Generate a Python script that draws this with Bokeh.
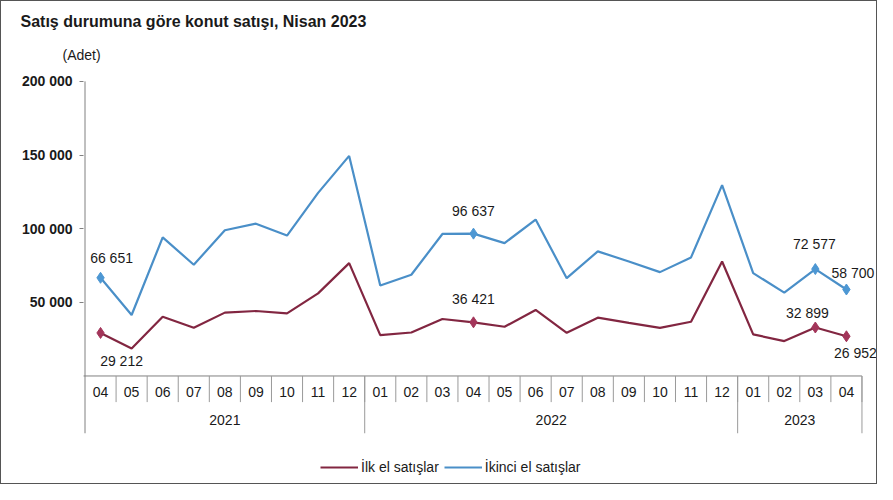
from bokeh.plotting import figure
from bokeh.models import Range1d, FixedTicker, Title, Legend, LegendItem, ColumnDataSource
from bokeh.core.properties import value
from bokeh.embed import file_html
from bokeh.resources import INLINE

# ---------------- data ----------------
months = ["04", "05", "06", "07", "08", "09", "10", "11", "12",
          "01", "02", "03", "04", "05", "06", "07", "08", "09", "10", "11", "12",
          "01", "02", "03", "04"]
years = ["2021", "2022", "2023"]
year_counts = [9, 12, 4]

ilk_el = [29212, 18600, 40200, 32700, 43000, 44100, 42500, 56100, 76600,
          27700, 29500, 38700, 36421, 33400, 44800, 29300, 39600, 36100, 32700, 36800, 77700,
          28200, 23700, 32899, 26952]
ikinci_el = [66651, 41400, 94100, 75500, 98900, 103400, 95300, 124300, 149400,
             61400, 68700, 96400, 96637, 90200, 106200, 66400, 84600, 77700, 70500, 80500, 129600,
             69800, 56600, 72577, 58700]

y_ticks = [50000, 100000, 150000, 200000]
y_tick_labels = ["50 000", "100 000", "150 000", "200 000"]

labelled_idx = [0, 12, 23, 24]

title_text = "Satış durumuna göre konut satışı, Nisan 2023"
unit_text = "(Adet)"
legend_names = ["İlk el satışlar", "İkinci el satışlar"]

# ---------------- layout constants (figure pixel coords) ----------------
W, H = 877, 484
PX = 50000 / 73.3          # data units per pixel
ZERO = 373                 # y pixel of value 0
FRAME_TOP, FRAME_BOTTOM = 66, 482
FRAME_LEFT, FRAME_RIGHT = 82, 875
SLOT = 31.0                # px per month
X0 = 83.5                  # x pixel of the first category's left edge

RED = "#822641"
RED_M = "#a3355a"
BLUE = "#4a8fc8"
BLUE_M = "#4d97d3"
FONT = "Liberation Sans"
TXT = "#1a1a1a"

def ypx(py):
    return (ZERO - py) * PX

p = figure(width=W, height=H, output_backend="svg", toolbar_location=None,
           x_range=Range1d((FRAME_LEFT - X0) / SLOT, (FRAME_RIGHT - X0) / SLOT),
           y_range=Range1d(ypx(FRAME_BOTTOM), ypx(FRAME_TOP)),
           x_axis_location=None, title=None,
           min_border_left=FRAME_LEFT, min_border_right=W - 2 - FRAME_RIGHT,
           min_border_top=FRAME_TOP, min_border_bottom=H - 2 - FRAME_BOTTOM)
p.outline_line_color = None
p.grid.visible = False
p.background_fill_color = "white"
p.border_fill_color = "white"
p.styles = {"border": "1px solid #555555", "box-sizing": "border-box"}

# y axis
ya = p.yaxis[0]
ya.ticker = FixedTicker(ticks=y_ticks)
ya.major_label_overrides = {t: l for t, l in zip(y_ticks, y_tick_labels)}
ya.axis_line_color = None
ya.minor_tick_line_color = None
ya.major_tick_out = 4
ya.major_tick_in = 0
ya.major_tick_line_color = "#808080"
ya.major_label_standoff = 7
ya.major_label_text_font = FONT
ya.major_label_text_font_size = "14px"
ya.major_label_text_font_style = "bold"
ya.major_label_text_color = TXT

# titles (first added sits nearest the plot area)
p.add_layout(Title(text=unit_text, align="left", offset=61 - FRAME_LEFT,
                   text_font=FONT, text_font_size="14px", text_font_style="normal",
                   text_color=TXT, standoff=10), "above")
p.add_layout(Title(text=title_text, align="left", offset=19 - FRAME_LEFT,
                   text_font=FONT, text_font_size="16px", text_font_style="bold",
                   text_color=TXT, standoff=19), "above")

n = len(months)
xs = [i + 0.5 for i in range(n)]

# axis lines and separators
y_month_bottom = ypx(399)
y_year_bottom = ypx(430)
p.segment(x0=[0], y0=[y_ticks[-1]], x1=[0], y1=[y_year_bottom], line_color="#808080", line_width=1)
p.segment(x0=[-0.06], y0=[0], x1=[n], y1=[0], line_color="#808080", line_width=1)
p.segment(x0=list(range(1, n + 1)), y0=[0] * n, x1=list(range(1, n + 1)), y1=[y_month_bottom] * n,
          line_color="#9a9a9a", line_width=1)
bounds = [0]
for c in year_counts:
    bounds.append(bounds[-1] + c)
p.segment(x0=bounds[1:], y0=[0] * len(year_counts), x1=bounds[1:], y1=[y_year_bottom] * len(year_counts),
          line_color="#9a9a9a", line_width=1)

# category labels
p.text(x=xs, y=[ypx(389)] * n, text=months, text_align="center", text_baseline="middle",
       text_font=value(FONT), text_font_size="14px", text_color=TXT)
year_x = [(bounds[i] + bounds[i + 1]) / 2 for i in range(len(years))]
p.text(x=year_x, y=[ypx(417)] * len(years), text=years, text_align="center", text_baseline="middle",
       text_font=value(FONT), text_font_size="14px", text_color=TXT)

# lines
r_ilk = p.line(xs, ilk_el, line_color=RED, line_width=2.2)
r_iki = p.line(xs, ikinci_el, line_color=BLUE, line_width=2.2)

# markers at labelled points
p.scatter([xs[i] for i in labelled_idx], [ilk_el[i] for i in labelled_idx], marker="diamond",
          size=11, fill_color=RED_M, line_color=RED_M)
p.scatter([xs[i] for i in labelled_idx], [ikinci_el[i] for i in labelled_idx], marker="diamond",
          size=11, fill_color=BLUE_M, line_color=BLUE_M)

def fmt(v):
    return f"{v:,}".replace(",", " ")

# data labels (pixel offsets from their points)
blue_off = [(11, -20, "center"), (0, -23, "center"), (-1, -25, "center"), (-15, -17, "left")]
red_off = [(21, 28, "center"), (0, -23, "center"), (-8, -15, "center"), (9, 17, "center")]

for series, offs in ((ikinci_el, blue_off), (ilk_el, red_off)):
    src = ColumnDataSource(dict(
        x=[xs[i] for i in labelled_idx],
        y=[series[i] for i in labelled_idx],
        t=[fmt(series[i]) for i in labelled_idx],
        dx=[o[0] for o in offs],
        dy=[o[1] for o in offs],
        al=[o[2] for o in offs],
    ))
    p.text(x="x", y="y", text="t", x_offset="dx", y_offset="dy", text_align="al",
           text_baseline="middle", source=src, text_font=value(FONT), text_font_size="14px",
           text_color=TXT)

legend = Legend(items=[LegendItem(label=legend_names[0], renderers=[r_ilk]),
                       LegendItem(label=legend_names[1], renderers=[r_iki])],
                orientation="horizontal", location=(319 - FRAME_LEFT, 9),
                glyph_width=38, glyph_height=18, label_standoff=3, spacing=5,
                padding=0, margin=0, border_line_color=None, background_fill_alpha=0,
                label_text_font=FONT, label_text_font_size="14px", label_text_color=TXT)
p.add_layout(legend, "center")

open("out.html", "w").write(file_html(p, INLINE))
